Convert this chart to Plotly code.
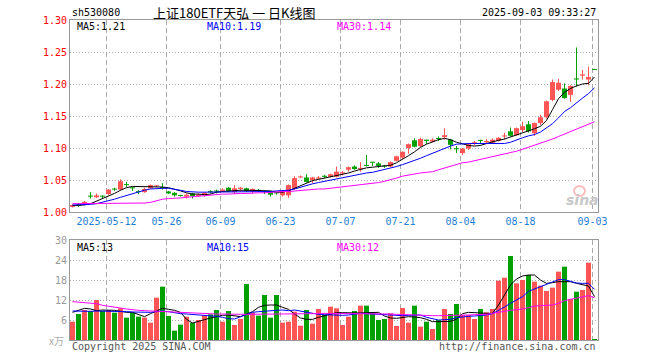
import plotly.graph_objects as go

# ---------------- data ----------------
tick_index = [6, 16, 25, 35, 45, 55, 65, 75, 87]
tick_labels = ["2025-05-12", "05-26", "06-09", "06-23", "07-07", "07-21", "08-04", "08-18", "09-03"]

opens = [1.008, 1.011, 1.013, 1.025, 1.023, 1.025, 1.028, 1.036, 1.035, 1.043,
         1.038, 1.032, 1.031, 1.037, 1.040, 1.039, 1.032, 1.030, 1.026, 1.024,
         1.029, 1.025, 1.026, 1.032, 1.033, 1.033, 1.038, 1.031, 1.036, 1.037,
         1.032, 1.034, 1.032, 1.032, 1.030, 1.026, 1.026, 1.036, 1.054, 1.054,
         1.050, 1.052, 1.056, 1.055, 1.055, 1.060, 1.066, 1.071, 1.067, 1.073,
         1.078, 1.076, 1.072, 1.071, 1.080, 1.085, 1.100, 1.112, 1.103, 1.113,
         1.110, 1.115, 1.117, 1.113, 1.099, 1.092, 1.099, 1.107, 1.112, 1.109,
         1.108, 1.111, 1.118, 1.126, 1.120, 1.128, 1.137, 1.123, 1.139, 1.148,
         1.175, 1.191, 1.193, 1.183, 1.208, 1.213, 1.207, 1.223]
closes = [1.011, 1.010, 1.016, 1.024, 1.026, 1.024, 1.035, 1.035, 1.048, 1.042,
          1.037, 1.031, 1.036, 1.042, 1.041, 1.037, 1.029, 1.026, 1.025, 1.027,
          1.025, 1.027, 1.030, 1.031, 1.032, 1.035, 1.032, 1.037, 1.038, 1.033,
          1.036, 1.033, 1.031, 1.027, 1.029, 1.032, 1.042, 1.053, 1.055, 1.047,
          1.054, 1.054, 1.055, 1.059, 1.063, 1.062, 1.070, 1.067, 1.069, 1.072,
          1.077, 1.072, 1.071, 1.078, 1.087, 1.094, 1.106, 1.102, 1.114, 1.111,
          1.113, 1.114, 1.120, 1.105, 1.098, 1.099, 1.106, 1.109, 1.111, 1.111,
          1.113, 1.116, 1.119, 1.119, 1.131, 1.134, 1.126, 1.139, 1.148, 1.173,
          1.203, 1.202, 1.178, 1.197, 1.207, 1.215, 1.211, 1.222]
highs = [1.012, 1.013, 1.017, 1.031, 1.029, 1.026, 1.036, 1.038, 1.051, 1.047,
         1.039, 1.034, 1.038, 1.043, 1.042, 1.045, 1.033, 1.031, 1.027, 1.029,
         1.030, 1.029, 1.031, 1.034, 1.035, 1.037, 1.039, 1.042, 1.039, 1.038,
         1.037, 1.036, 1.033, 1.033, 1.031, 1.033, 1.043, 1.056, 1.057, 1.059,
         1.055, 1.056, 1.058, 1.060, 1.071, 1.064, 1.071, 1.073, 1.078, 1.089,
         1.078, 1.078, 1.073, 1.079, 1.088, 1.095, 1.107, 1.115, 1.116, 1.113,
         1.115, 1.118, 1.131, 1.114, 1.103, 1.100, 1.107, 1.111, 1.113, 1.114,
         1.115, 1.117, 1.124, 1.132, 1.132, 1.141, 1.142, 1.140, 1.152, 1.174,
         1.207, 1.208, 1.201, 1.198, 1.257, 1.222, 1.227, 1.223]
lows = [1.007, 1.008, 1.012, 1.021, 1.022, 1.021, 1.026, 1.033, 1.034, 1.039,
        1.033, 1.028, 1.030, 1.036, 1.039, 1.035, 1.028, 1.024, 1.024, 1.021,
        1.021, 1.024, 1.024, 1.029, 1.029, 1.032, 1.031, 1.029, 1.032, 1.031,
        1.029, 1.031, 1.028, 1.024, 1.027, 1.024, 1.022, 1.035, 1.053, 1.046,
        1.045, 1.051, 1.053, 1.054, 1.054, 1.057, 1.063, 1.066, 1.063, 1.071,
        1.072, 1.069, 1.069, 1.070, 1.079, 1.083, 1.091, 1.101, 1.101, 1.106,
        1.109, 1.111, 1.113, 1.098, 1.092, 1.089, 1.097, 1.104, 1.106, 1.106,
        1.107, 1.110, 1.113, 1.118, 1.119, 1.125, 1.124, 1.119, 1.136, 1.146,
        1.173, 1.189, 1.177, 1.172, 1.196, 1.207, 1.198, 1.222]

ma5 = [1.010, 1.010, 1.011, 1.013, 1.017, 1.020, 1.025, 1.029, 1.034, 1.038,
       1.040, 1.040, 1.040, 1.040, 1.039, 1.039, 1.038, 1.036, 1.033, 1.030,
       1.028, 1.028, 1.027, 1.028, 1.031, 1.032, 1.033, 1.034, 1.034, 1.034,
       1.034, 1.034, 1.034, 1.033, 1.031, 1.031, 1.033, 1.037, 1.042, 1.046,
       1.049, 1.051, 1.053, 1.054, 1.056, 1.058, 1.061, 1.064, 1.067, 1.069,
       1.070, 1.071, 1.072, 1.073, 1.077, 1.082, 1.088, 1.094, 1.101, 1.106,
       1.110, 1.113, 1.115, 1.113, 1.109, 1.106, 1.104, 1.103, 1.104, 1.107,
       1.110, 1.112, 1.114, 1.117, 1.120, 1.124, 1.127, 1.130, 1.134, 1.143,
       1.160, 1.177, 1.187, 1.193, 1.197, 1.200, 1.201, 1.211]
ma10 = [1.011, 1.011, 1.012, 1.012, 1.013, 1.015, 1.017, 1.020, 1.023, 1.026,
        1.029, 1.032, 1.034, 1.036, 1.037, 1.037, 1.037, 1.036, 1.034, 1.032,
        1.031, 1.031, 1.031, 1.031, 1.031, 1.031, 1.032, 1.032, 1.032, 1.032,
        1.032, 1.032, 1.032, 1.032, 1.033, 1.033, 1.034, 1.036, 1.039, 1.041,
        1.044, 1.046, 1.048, 1.050, 1.052, 1.053, 1.055, 1.057, 1.059, 1.061,
        1.062, 1.064, 1.066, 1.068, 1.071, 1.074, 1.077, 1.081, 1.084, 1.088,
        1.092, 1.096, 1.100, 1.103, 1.106, 1.107, 1.107, 1.107, 1.107, 1.107,
        1.107, 1.107, 1.107, 1.109, 1.113, 1.116, 1.119, 1.121, 1.125, 1.131,
        1.138, 1.147, 1.157, 1.163, 1.171, 1.178, 1.185, 1.194]
ma30 = [1.013, 1.013, 1.013, 1.013, 1.013, 1.013, 1.013, 1.013, 1.013, 1.014,
        1.014, 1.014, 1.014, 1.015, 1.018, 1.020, 1.021, 1.021, 1.022, 1.023,
        1.024, 1.025, 1.026, 1.027, 1.027, 1.028, 1.028, 1.029, 1.029, 1.029,
        1.030, 1.030, 1.030, 1.031, 1.031, 1.032, 1.032, 1.033, 1.034, 1.034,
        1.035, 1.036, 1.036, 1.037, 1.038, 1.039, 1.040, 1.041, 1.042, 1.043,
        1.044, 1.046, 1.048, 1.050, 1.053, 1.056, 1.058, 1.059, 1.061, 1.062,
        1.063, 1.066, 1.069, 1.072, 1.075, 1.077, 1.078, 1.080, 1.082, 1.084,
        1.086, 1.088, 1.090, 1.093, 1.095, 1.098, 1.101, 1.104, 1.107, 1.110,
        1.114, 1.118, 1.122, 1.126, 1.130, 1.134, 1.137, 1.141]

volumes = [5.5, 7.8, 9.0, 8.7, 12.0, 8.7, 9.0, 8.2, 9.5, 6.7,
           8.3, 7.0, 6.7, 5.2, 12.7, 16.0, 7.2, 2.8, 4.6, 7.0,
           5.2, 6.0, 7.5, 7.7, 9.0, 5.5, 8.7, 4.5, 6.3, 16.8,
           8.2, 7.3, 13.5, 6.7, 13.5, 5.2, 5.5, 8.5, 4.3, 9.0,
           4.9, 9.3, 7.5, 10.0, 9.5, 4.5, 7.0, 8.7, 10.3, 10.3,
           8.0, 6.0, 6.3, 8.0, 4.2, 9.6, 5.2, 10.3, 4.0, 5.5,
           3.3, 6.0, 9.3, 7.8, 10.8, 7.5, 7.5, 6.3, 9.3, 8.3,
           9.3, 17.8, 18.7, 25.2, 17.0, 18.0, 19.5, 17.5, 16.3, 14.7,
           15.7, 20.5, 22.0, 12.3, 14.5, 15.0, 23.2, 0.3]
vma5 = [8.3, 8.8, 9.5, 9.3, 8.8, 9.0, 9.0, 8.9, 8.6, 8.3,
        8.3, 7.7, 7.0, 7.9, 8.8, 9.5, 9.2, 8.9, 8.3, 6.2,
        5.1, 5.5, 6.1, 6.6, 7.0, 7.4, 7.5, 7.2, 7.0, 7.8,
        8.5, 9.8, 10.4, 10.5, 10.5, 9.8, 9.2, 7.8, 6.6, 6.2,
        6.2, 6.8, 7.3, 7.7, 8.2, 8.2, 8.1, 8.0, 8.1, 8.2,
        8.3, 8.3, 7.2, 6.6, 6.5, 6.7, 7.0, 6.9, 6.7, 6.2,
        5.5, 5.5, 5.5, 5.6, 6.2, 7.9, 8.3, 8.3, 8.1, 8.0,
        8.0, 10.5, 13.5, 16.5, 18.3, 19.2, 19.5, 19.5, 18.0, 17.0,
        17.2, 17.5, 17.5, 17.5, 17.0, 16.7, 16.2, 13.0]
vma10 = [8.7, 8.6, 8.5, 8.6, 8.7, 8.7, 8.7, 8.7, 8.6, 8.5,
         8.4, 8.3, 8.2, 8.3, 8.5, 8.7, 8.5, 8.1, 7.9, 7.8,
         7.7, 7.6, 7.5, 7.3, 7.1, 6.8, 6.4, 6.3, 7.0, 7.8,
         8.3, 8.5, 8.7, 8.8, 8.9, 9.0, 8.8, 9.0, 8.7, 8.3,
         7.9, 7.7, 7.6, 7.5, 7.5, 7.4, 7.5, 7.7, 8.0, 7.9,
         7.8, 7.7, 7.5, 7.4, 7.3, 7.3, 7.4, 7.5, 7.5, 6.8,
         6.3, 6.0, 6.1, 6.2, 6.7, 7.0, 7.1, 7.2, 7.3, 7.5,
         7.9, 8.8, 9.9, 11.0, 12.0, 13.0, 14.6, 15.3, 16.0, 16.7,
         17.3, 18.1, 18.1, 17.7, 17.1, 17.0, 17.0, 15.2]
vma30 = [11.5, 11.4, 11.3, 11.2, 10.9, 10.4, 10.2, 9.9, 9.6, 9.3,
         9.0, 8.9, 8.8, 8.7, 8.7, 8.6, 8.5, 8.4, 8.2, 8.1,
         8.1, 8.0, 7.9, 7.9, 7.8, 7.8, 7.7, 7.7, 7.7, 7.7,
         7.7, 7.7, 7.7, 7.8, 7.8, 7.8, 7.8, 7.8, 7.8, 7.9,
         7.9, 8.0, 8.0, 8.0, 8.0, 8.0, 8.0, 8.0, 8.0, 7.9,
         7.9, 7.8, 7.8, 7.8, 7.7, 7.6, 7.6, 7.5, 7.5, 7.4,
         7.3, 7.3, 7.3, 7.4, 7.4, 7.5, 7.5, 7.6, 7.6, 7.7,
         8.0, 8.4, 8.6, 8.9, 9.0, 9.3, 9.7, 10.2, 10.3, 10.4,
         10.5, 11.0, 11.8, 12.2, 12.6, 13.0, 13.3, 12.7]

price_legend = ["MA5:1.21", "MA10:1.19", "MA30:1.14"]
volume_legend = ["MA5:13", "MA10:15", "MA30:12"]
header_code = "sh530080"
header_title = "上证180ETF天弘 一 日K线图"
header_time = "2025-09-03 09:33:27"

# ---------------- styling ----------------
RED = "#ff5555"
GREEN = "#00a000"
MA_COLORS = ["#000000", "#0000ff", "#ff00ff"]
GRID = "#aaaaaa"
FRAME = "#999999"
MONO = "DejaVu Sans Mono"

W, H = 660, 360
L, R, T, B = 70, 62, 20, 20        # plot area 70..598 x 20..340
PW, PH = W - L - R, H - T - B
STEP = 6.0                          # pixels per trading day


def px(X):
    return (X - L) / PW


def py(Y):
    return (H - B - Y) / PH


n = len(closes)
idx = list(range(n))
up = [c >= o for o, c in zip(opens, closes)]
colors = [RED if u else GREEN for u in up]
bases = [min(o, c) for o, c in zip(opens, closes)]
bodies = [max(abs(c - o), 0.0016) for o, c in zip(opens, closes)]

fig = go.Figure()

# wicks
for col, flag in ((RED, True), (GREEN, False)):
    wx, wy = [], []
    for i in idx:
        if up[i] == flag:
            wx += [i, i, None]
            wy += [lows[i], highs[i], None]
    fig.add_trace(go.Scatter(x=wx, y=wy, mode="lines", line=dict(color=col, width=1),
                             xaxis="x", yaxis="y", hoverinfo="skip"))

# candle bodies
fig.add_trace(go.Bar(x=idx, y=bodies, base=bases, width=5 / 6,
                     marker=dict(color=colors, line=dict(width=0)),
                     xaxis="x", yaxis="y"))

# moving averages (price)
for series, col in zip((ma5, ma10, ma30), MA_COLORS):
    fig.add_trace(go.Scatter(x=idx, y=series, mode="lines", line=dict(color=col, width=1),
                             xaxis="x", yaxis="y"))

# volume bars
fig.add_trace(go.Bar(x=idx, y=volumes, width=5 / 6,
                     marker=dict(color=colors, line=dict(width=0)),
                     xaxis="x2", yaxis="y2"))
for series, col in zip((vma5, vma10, vma30), MA_COLORS):
    fig.add_trace(go.Scatter(x=idx, y=series, mode="lines", line=dict(color=col, width=1),
                             xaxis="x2", yaxis="y2"))

x_left = -(72.5 - L) / STEP
x_range = [x_left, x_left + PW / STEP]
grid_pos = [i - 1 / 3 for i in tick_index]

common_x = dict(range=x_range, showgrid=True, gridcolor=GRID, gridwidth=1, griddash="5px,3px",
                tickmode="array", tickvals=grid_pos, zeroline=False, showline=True,
                linecolor=FRAME, linewidth=1, mirror=True, ticks="", fixedrange=True)

price_ticks = [1.00, 1.05, 1.10, 1.15, 1.20, 1.25, 1.30]
vol_ticks = [6, 12, 18, 24, 30]

fig.update_layout(
    width=W, height=H,
    margin=dict(l=L, r=R, t=T, b=B, pad=0),
    paper_bgcolor="white", plot_bgcolor="white",
    showlegend=False, hovermode=False, barmode="overlay",
    xaxis=dict(common_x, anchor="y", domain=[0, 1], ticktext=tick_labels, showticklabels=True,
               tickfont=dict(family=MONO, size=10, color="#1f7fd6")),
    yaxis=dict(domain=[0.4, 1], range=[1.0, 1.3], tickmode="array", tickvals=price_ticks,
               ticktext=["%.2f" % v for v in price_ticks], showgrid=True, gridcolor=GRID,
               griddash="1px,2px", zeroline=False, showline=True, linecolor=FRAME, linewidth=1,
               mirror=True, ticks="", tickfont=dict(family=MONO, size=10, color="#ff0000"),
               fixedrange=True),
    xaxis2=dict(common_x, anchor="y2", domain=[0, 1], showticklabels=False),
    yaxis2=dict(domain=[0, 0.3125], range=[0, 30], tickmode="array", tickvals=vol_ticks,
                ticktext=[str(v) for v in vol_ticks], showgrid=True, gridcolor=GRID,
                griddash="1px,2px", zeroline=False, showline=True, linecolor=FRAME, linewidth=1,
                mirror=True, ticks="", tickfont=dict(family=MONO, size=10, color="#999999"),
                fixedrange=True),
)

ann = []


def text(X, Y, s, color="#000000", size=10, family=MONO, anchor="left", **kw):
    ann.append(dict(x=px(X), y=py(Y), xref="paper", yref="paper", text=s, showarrow=False,
                    xanchor=anchor, yanchor="middle", font=dict(family=family, size=size, color=color),
                    **kw))


text(70, 13, header_code)
text(151, 12.5, header_title, size=13, family="Noto Sans CJK SC")
text(598, 12.5, header_time, anchor="right")
for s, X, col in zip(price_legend, (75, 205, 335), MA_COLORS):
    text(X, 27, s, color=col)
for s, X, col in zip(volume_legend, (75, 205, 335), MA_COLORS):
    text(X, 247, s, color=col)
text(66, 340.5, "x万", color="#aaaaaa", size=10, family="Noto Sans CJK SC", anchor="right")
text(70, 346, "Copyright 2025 SINA.COM", color="#555555")
text(598, 346, "http://finance.sina.com.cn", color="#555555", anchor="right")
# watermark
text(582, 200, "<b><i>sina</i></b>", color="#c8c8c8", size=14, family="DejaVu Sans", anchor="center")
fig.update_layout(annotations=ann)
fig.add_shape(type="circle", xref="paper", yref="paper",
              x0=px(574), x1=px(585), y0=py(196), y1=py(186),
              line=dict(color="rgba(240,110,110,0.45)", width=2), fillcolor="rgba(0,0,0,0)")

fig.write_html("out.html", config={"displayModeBar": False, "staticPlot": True},
               post_script="document.body.style.margin='0';document.body.style.overflow='hidden';")
